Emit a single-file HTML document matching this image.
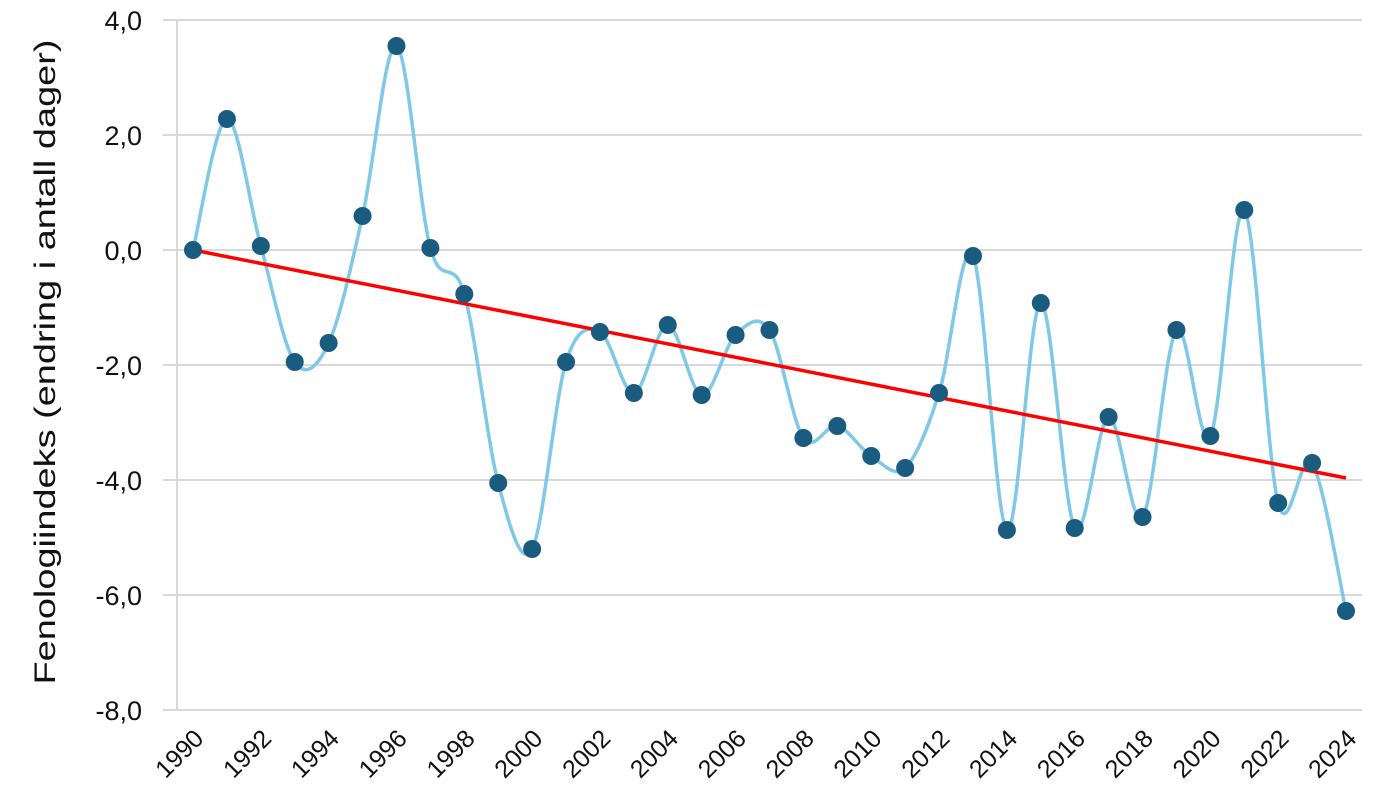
<!DOCTYPE html>
<html><head><meta charset="utf-8"><style>
html,body{margin:0;padding:0;background:#fff;width:1379px;height:808px;overflow:hidden}
text{font-family:"Liberation Sans",sans-serif;fill:#111}
</style></head><body>
<svg id="s" width="1379" height="808" xmlns="http://www.w3.org/2000/svg">
<g stroke="#d9d9d9" stroke-width="2">
<line x1="163" y1="20" x2="1362" y2="20"/>
<line x1="163" y1="135" x2="1362" y2="135"/>
<line x1="163" y1="250" x2="1362" y2="250"/>
<line x1="163" y1="365" x2="1362" y2="365"/>
<line x1="163" y1="480" x2="1362" y2="480"/>
<line x1="163" y1="595" x2="1362" y2="595"/>
<line x1="163" y1="710" x2="1362" y2="710"/>
<line x1="177" y1="20" x2="177" y2="710"/>
</g>
<g font-size="27" text-anchor="end">
<text x="142" y="30">4,0</text>
<text x="142" y="145">2,0</text>
<text x="142" y="260">0,0</text>
<text x="142" y="375">-2,0</text>
<text x="142" y="490">-4,0</text>
<text x="142" y="605">-6,0</text>
<text x="142" y="720">-8,0</text>
</g>
<text transform="translate(55,362) rotate(-90)" font-size="30" text-anchor="middle" textLength="645" lengthAdjust="spacingAndGlyphs">Fenologiindeks (endring i antall dager)</text>
<g id="xl" font-size="25" text-anchor="end"></g>
<path id="ln" fill="none" stroke="#7fc8e8" stroke-width="3.5"/>
<line x1="193" y1="250" x2="1346" y2="478" stroke="#ff0000" stroke-width="3.5"/>
<g id="mk" fill="#1a5c80"></g>
</svg>
<script>
var ys=[250,119,246,362,343,216,46,248,294,483,549,362,332,393,325,395,335,330,438,426,456,468,393,256,530,303,528,417,517,330,436,210,503,463,611];
var step=(1346-193)/34,pts=ys.map(function(y,i){return [193+i*step,y]});
var d="M"+pts[0][0]+","+pts[0][1];
for(var i=0;i<pts.length-1;i++){var p0=pts[i-1]||pts[i],p1=pts[i],p2=pts[i+1],p3=pts[i+2]||p2;
var k=1/6;d+=" C"+(p1[0]+(p2[0]-p0[0])*k)+","+(p1[1]+(p2[1]-p0[1])*k)+" "+(p2[0]-(p3[0]-p1[0])*k)+","+(p2[1]-(p3[1]-p1[1])*k)+" "+p2[0]+","+p2[1];}
document.getElementById("ln").setAttribute("d",d);
var ns="http://www.w3.org/2000/svg",mk=document.getElementById("mk"),xl=document.getElementById("xl");
pts.forEach(function(p,i){var c=document.createElementNS(ns,"circle");c.setAttribute("cx",p[0]);c.setAttribute("cy",p[1]);c.setAttribute("r",9);mk.appendChild(c);
if(i%2==0){var t=document.createElementNS(ns,"text");t.setAttribute("transform","translate("+(p[0]+12)+",740) rotate(-45)");t.textContent=1990+i;xl.appendChild(t);}});
</script>
</body></html>
